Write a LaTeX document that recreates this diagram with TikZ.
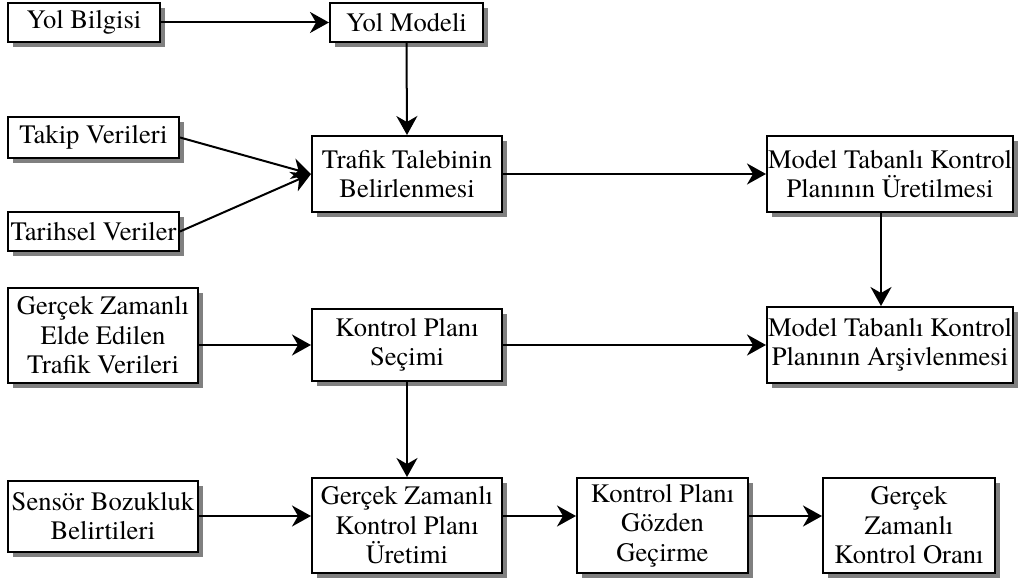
\documentclass[tikz,border=0pt]{standalone}
\usepackage{fontspec}
\setmainfont{texgyretermes}[Extension=.otf, UprightFont=*-regular, BoldFont=*-bold]
\usetikzlibrary{shapes,arrows.meta,positioning,shadows}

\begin{document}
\begin{tikzpicture}[
    x=1pt, y=-1pt,
    block/.style={rectangle, draw, line width=2pt, fill=white, inner sep=0pt, align=center,
      font=\fontsize{26.6}{29.5}\selectfont,
      drop shadow={shadow xshift=5pt, shadow yshift=-5pt, fill=gray, opacity=1}},
    flow/.style={-{Stealth[length=19pt, width=21pt, inset=6pt]}, line width=2pt}
  ]
    \useasboundingbox (0,0) rectangle (1018,580);

    \node[block, minimum width=152pt, minimum height=39pt] (yolbilgi) at (84,22.5) {Yol Bilgisi};
    \node[block, minimum width=153pt, minimum height=39pt] (yolmodeli) at (406.5,22.5) {Yol Modeli};

    \node[block, minimum width=171pt, minimum height=41pt] (takip) at (93.5,137.5) {Takip Verileri};
    \node[block, minimum width=171pt, minimum height=39pt] (tarihsel) at (93.5,231.5) {Tarihsel Veriler};
    \node[block, minimum width=190pt, minimum height=76pt] (talep) at (407,174) {Trafik Talebinin\\Belirlenmesi};
    \node[block, minimum width=246pt, minimum height=76pt] (modeluret) at (890,174) {Model Tabanlı Kontrol\\Planının Üretilmesi};

    \node[block, minimum width=190pt, minimum height=95pt] (gercekveri) at (103,335.5) {Gerçek Zamanlı\\Elde Edilen\\Trafik Verileri};
    \node[block, minimum width=190pt, minimum height=72pt] (secim) at (407,345) {Kontrol Planı\\Seçimi};
    \node[block, minimum width=246pt, minimum height=76pt] (modelarsiv) at (890,345) {Model Tabanlı Kontrol\\Planının Arşivlenmesi};

    \node[block, minimum width=190pt, minimum height=71pt] (sensor) at (103,516) {Sensör Bozukluk\\Belirtileri};
    \node[block, minimum width=190pt, minimum height=95pt] (uretim) at (407,525.5) {Gerçek Zamanlı\\Kontrol Planı\\Üretimi};
    \node[block, minimum width=171pt, minimum height=95pt] (gozden) at (662.5,525.5) {Kontrol Planı\\Gözden\\Geçirme};
    \node[block, minimum width=172pt, minimum height=95pt] (oran) at (909,525.5) {Gerçek\\Zamanlı\\Kontrol Oranı};

    \draw[flow] (yolbilgi.east) -- (yolmodeli.west);
    \draw[flow] (yolmodeli.south) -- (talep.north);
    \draw[flow] (takip.east) -- (talep.west);
    \draw[flow] (tarihsel.east) -- (talep.west);
    \draw[flow] (talep.east) -- (modeluret.west);
    \draw[flow] ([xshift=-9pt]modeluret.south) -- ([xshift=-9pt]modelarsiv.north);
    \draw[flow] (gercekveri.east |- secim) -- (secim.west);
    \draw[flow] (secim.east) -- (modelarsiv.west);
    \draw[flow] (secim.south) -- (uretim.north);
    \draw[flow] (sensor.east) -- (uretim.west |- sensor);
    \draw[flow] (uretim.east |- sensor) -- (gozden.west |- sensor);
    \draw[flow] (gozden.east |- sensor) -- (oran.west |- sensor);
  \end{tikzpicture}
\end{document}
